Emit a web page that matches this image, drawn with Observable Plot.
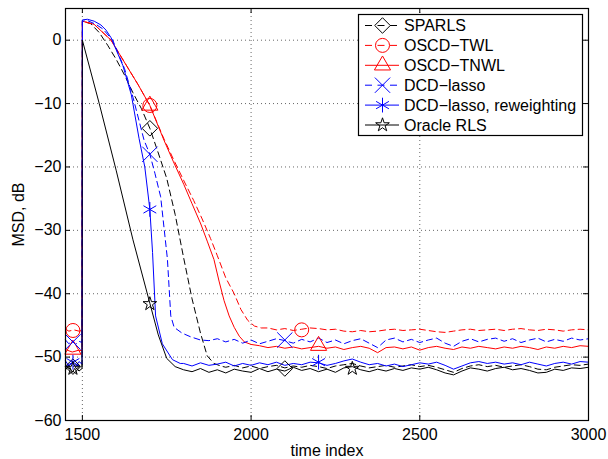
<!DOCTYPE html>
<html><head><meta charset="utf-8">
<script src="https://cdn.jsdelivr.net/npm/d3@7"></script>
<script src="https://cdn.jsdelivr.net/npm/@observablehq/plot@0.6"></script>
<style>
body{margin:0;background:#fff;}
#wrap{position:relative;width:608px;height:459px;font-family:"Liberation Sans",Arial,Helvetica,sans-serif;}
#legend{position:absolute;left:0;top:0;pointer-events:none;}
</style></head><body><div id="wrap"></div>
<script>
// ---- data ----
const xTicks = [1500, 2000, 2500, 3000];
const yTicks = [-60, -50, -40, -30, -20, -10, 0];
const xLabel = "time index";
const yLabel = "MSD, dB";
const names = ["SPARLS", "OSCD\u2212TWL", "OSCD\u2212TNWL", "DCD\u2212lasso", "DCD\u2212lasso, reweighting", "Oracle RLS"];

const sparls = [[1450,-51.4],[1465,-51.9],[1480,-51.2],[1499,-51.6],
  [1500,3],[1525,2.6],[1550,1.2],[1575,-0.8],[1600,-3],[1625,-5.5],[1650,-8.3],[1675,-10.8],[1700,-13.9],[1725,-17.8],[1750,-21.8],[1775,-27.5],[1800,-34.3],[1825,-40.8],[1850,-46.2],[1870,-49.8],[1890,-51],[1910,-51.4],
  [1925,-51.6],[1950,-51.3],[1975,-51.7],[2000,-51.4],[2025,-51.8],[2050,-51.5],[2075,-51.3],[2100,-51.7],[2125,-51.4],[2150,-51.6],[2175,-51.3],[2200,-51.5],[2225,-51.8],[2250,-51.4],[2275,-51.2],[2300,-51.0],[2325,-51.4],[2350,-51.7],[2375,-51.5],[2400,-51.3],[2425,-51.6],[2450,-51.4],[2475,-51.2],[2500,-51.5],[2525,-51.3],[2550,-51.6],[2575,-52.0],[2600,-52.4],[2625,-51.8],[2650,-51.4],[2675,-51.2],[2700,-51.5],[2725,-51.3],[2750,-51.6],[2775,-51.4],[2800,-51.2],[2825,-51.5],[2850,-51.9],[2875,-52.0],[2900,-51.6],[2925,-51.4],[2950,-51.2],[2975,-51.3],[3000,-51.1]];

const oscdTWL = [[1450,-45.6],[1460,-45.9],[1475,-45.7],[1490,-45.9],[1499,-45.8],
  [1500,3],[1535,2.5],[1585,0],[1633,-4.2],[1665,-7],[1700,-10.3],[1742,-15.6],[1770,-18.8],[1801,-22.2],[1830,-25.3],[1855,-28.2],[1880,-31.3],[1900,-34],[1925,-37.5],[1950,-40],[1970,-42.5],[1990,-44.2],[2010,-45.1],[2030,-45.4],
  [2050,-45.4],[2075,-45.7],[2100,-45.5],[2125,-45.8],[2150,-45.6],[2175,-45.4],[2200,-45.5],[2225,-45.7],[2250,-45.6],[2275,-45.9],[2300,-46.0],[2325,-45.8],[2350,-46.0],[2375,-45.9],[2400,-45.7],[2425,-45.6],[2450,-45.8],[2475,-45.7],[2500,-45.6],[2525,-45.8],[2550,-46.0],[2575,-46.1],[2600,-45.9],[2625,-45.7],[2650,-45.6],[2675,-45.8],[2700,-45.7],[2725,-45.6],[2750,-45.8],[2775,-45.6],[2800,-45.5],[2825,-45.7],[2850,-45.8],[2875,-45.6],[2900,-45.7],[2925,-45.9],[2950,-45.7],[2975,-45.6],[3000,-45.7]];

const oscdTNWL = [[1450,-48.8],[1470,-49.2],[1490,-48.9],[1499,-49],
  [1500,3],[1535,2.5],[1585,0],[1633,-4.2],[1665,-7],[1700,-10.3],[1742,-15.8],[1770,-19.2],[1801,-22.8],[1825,-25.8],[1851,-29],[1870,-31.7],[1890,-34.6],[1905,-38],[1920,-41.1],[1935,-43.5],[1950,-45.3],[1965,-46.7],[1980,-47.6],[2000,-48],[2025,-48.2],
  [2050,-48.5],[2075,-48.3],[2100,-48.6],[2125,-48.4],[2150,-48.7],[2175,-48.5],[2200,-48.3],[2225,-48.6],[2250,-48.4],[2275,-48.8],[2300,-48.5],[2325,-48.3],[2350,-48.6],[2375,-49.3],[2400,-48.5],[2425,-48.4],[2450,-48.7],[2475,-48.4],[2500,-48.9],[2525,-48.5],[2550,-48.3],[2575,-48.6],[2600,-48.8],[2625,-48.4],[2650,-48.6],[2675,-48.3],[2700,-48.5],[2725,-48.7],[2750,-48.4],[2775,-48.6],[2800,-48.3],[2825,-48.5],[2850,-48.8],[2875,-48.4],[2900,-48.6],[2925,-48.3],[2950,-48.5],[2975,-48.2],[3000,-48.3]];

const dcdLasso = [[1450,-47.3],[1460,-47.9],[1470,-47.4],[1480,-48.0],[1490,-47.5],[1499,-47.7],
  [1500,3],[1515,3.1],[1540,2.5],[1560,1.8],[1590,0],[1625,-4.5],[1650,-9],[1683,-15.8],[1700,-18],[1715,-21],[1732,-24.7],[1752,-34.5],[1762,-43.5],[1772,-45.3],[1795,-46.2],[1821,-46.8],[1850,-47.3],[1875,-47.4],
  [1900,-47.1],[1925,-47.6],[1950,-47.2],[1975,-47.8],[2000,-47.3],[2025,-47.9],[2050,-47.5],[2075,-47.1],[2100,-47.4],[2125,-47.8],[2150,-47.2],[2175,-47.6],[2200,-47.0],[2225,-47.7],[2250,-47.3],[2275,-47.9],[2300,-47.4],[2325,-47.1],[2350,-47.8],[2375,-48.5],[2400,-47.3],[2425,-47.0],[2450,-47.6],[2475,-47.2],[2500,-47.7],[2525,-47.3],[2550,-47.0],[2575,-47.8],[2600,-48.3],[2625,-47.5],[2650,-47.1],[2675,-47.6],[2700,-47.2],[2725,-47.0],[2750,-47.5],[2775,-47.1],[2800,-47.7],[2825,-47.3],[2850,-47.0],[2875,-47.6],[2900,-47.2],[2925,-47.5],[2950,-47.0],[2975,-47.3],[3000,-47.1]];

const dcdReweight = [[1450,-50.6],[1460,-51.4],[1470,-50.9],[1480,-51.5],[1490,-50.7],[1499,-51.1],
  [1500,3.2],[1515,3.3],[1535,3.0],[1555,2.4],[1570,1.6],[1585,0.4],[1600,-1.5],[1620,-4],[1645,-8.6],[1668,-15.5],[1685,-20],[1700,-26.7],[1708,-33.5],[1717,-43.5],[1737,-47.9],[1767,-50.4],[1790,-51.0],
  [1800,-51.0],[1825,-51.4],[1850,-50.9],[1875,-51.3],[1900,-51.1],[1925,-50.8],[1950,-51.4],[1975,-51.0],[2000,-51.3],[2025,-50.9],[2050,-51.2],[2075,-50.8],[2100,-51.3],[2125,-51.0],[2150,-51.2],[2175,-50.8],[2200,-50.9],[2225,-51.3],[2250,-51.0],[2275,-50.6],[2300,-50.3],[2325,-50.8],[2350,-51.2],[2375,-51.0],[2400,-51.4],[2425,-51.1],[2450,-51.5],[2475,-51.2],[2500,-50.9],[2525,-51.1],[2550,-50.8],[2575,-51.3],[2600,-51.9],[2625,-51.4],[2650,-50.9],[2675,-50.7],[2700,-51.0],[2725,-50.8],[2750,-51.1],[2775,-50.9],[2800,-51.2],[2825,-50.8],[2850,-51.1],[2875,-51.4],[2900,-51.0],[2925,-50.8],[2950,-51.1],[2975,-50.7],[3000,-50.8]];

const oracle = [[1450,-52],[1460,-51.3],[1470,-52.4],[1480,-51.6],[1490,-52.2],[1499,-51.8],
  [1500,0],[1550,-10],[1600,-20.5],[1650,-31.5],[1700,-41.5],[1725,-46.5],[1750,-50.2],[1775,-51.5],[1800,-52],
  [1825,-52.3],[1850,-51.8],[1875,-52.4],[1900,-52.0],[1925,-52.5],[1950,-51.9],[1975,-52.2],[2000,-52.4],[2025,-51.8],[2050,-52.3],[2075,-51.9],[2100,-52.2],[2125,-51.6],[2150,-52.1],[2175,-51.8],[2200,-52.3],[2225,-51.9],[2250,-52.4],[2275,-51.7],[2300,-51.5],[2325,-52.0],[2350,-52.3],[2375,-51.9],[2400,-52.2],[2425,-51.8],[2450,-52.1],[2475,-51.7],[2500,-51.9],[2525,-51.6],[2550,-52.0],[2575,-52.5],[2600,-52.8],[2625,-52.2],[2650,-51.7],[2675,-51.9],[2700,-52.2],[2725,-51.8],[2750,-51.6],[2775,-52.0],[2800,-51.8],[2825,-52.1],[2850,-52.5],[2875,-52.4],[2900,-51.9],[2925,-52.1],[2950,-51.7],[2975,-51.8],[3000,-51.6]];

// marker positions
const sparlsMarks = [[1472,-51.5],[1700,-13.9],[2100,-51.8]];
const oscdTWLMarks = [[1472,-45.8],[1700,-10.3],[2150,-45.7]];
const oscdTNWLMarks = [[1472,-48.8],[1700,-10.3],[2200,-48.2]];
const dcdLassoMarks = [[1472,-47.6],[1700,-18],[2100,-47.3]];
const dcdReweightMarks = [[1472,-50.8],[1700,-26.7],[2200,-50.8]];
const oracleMarks = [[1472,-51.8],[1700,-41.6],[2300,-51.8]];

// ---- styles ----
const series = [
  {name: names[0], data: sparls, marks: sparlsMarks, color: "#000", dash: "6,4", symbol: "diamond2", r: 7},
  {name: names[1], data: oscdTWL, marks: oscdTWLMarks, color: "#f00", dash: "6,4", symbol: "circle", r: 7},
  {name: names[2], data: oscdTNWL, marks: oscdTNWLMarks, color: "#f00", dash: null, symbol: "triangle", r: 6},
  {name: names[3], data: dcdLasso, marks: dcdLassoMarks, color: "#00f", dash: "6,4", symbol: "times", r: 7},
  {name: names[4], data: dcdReweight, marks: dcdReweightMarks, color: "#00f", dash: null, symbol: "asterisk", r: 7},
  {name: names[5], data: oracle, marks: oracleMarks, color: "#000", dash: null, symbol: "star", r: 4.3}
];

const W = 608, H = 459, mL = 65, mR = 20, mT = 8, mB = 39;
const plotW = W - mL - mR, plotH = H - mT - mB;
const tickLen = 5;
const FONT = "Liberation Sans, Arial, Helvetica, sans-serif";
const fmt = d => d < 0 ? "\u2212" + Math.abs(d) : String(d);

const marks = [
  Plot.gridX(xTicks.filter(d => d < 3000), {stroke: "#000", strokeOpacity: 0.6, strokeDasharray: "1,3", strokeWidth: 1}),
  Plot.gridY(yTicks.filter(d => d > -60), {stroke: "#000", strokeOpacity: 0.6, strokeDasharray: "1,3", strokeWidth: 1}),
];
for (const s of series) {
  marks.push(Plot.line(s.data, {x: d => d[0], y: d => d[1], stroke: s.color, strokeWidth: 1, strokeDasharray: s.dash, curve: "linear"}));
}
for (const s of series) {
  marks.push(Plot.dot(s.marks, {x: d => d[0], y: d => d[1], symbol: () => s.symbol, r: s.r, stroke: s.color, fill: "none", strokeWidth: 1}));
}
marks.push(
  Plot.ruleX(xTicks, {stroke: "#000", insetTop: plotH - tickLen}),
  Plot.ruleX(xTicks, {stroke: "#000", insetBottom: plotH - tickLen}),
  Plot.ruleY(yTicks, {stroke: "#000", insetRight: plotW - tickLen}),
  Plot.ruleY(yTicks, {stroke: "#000", insetLeft: plotW - tickLen}),
  Plot.frame({stroke: "#000", strokeWidth: 1.2}),
  Plot.axisX(xTicks, {tickSize: 0, tickPadding: 8, tickFormat: fmt, fontSize: 16, label: xLabel, labelAnchor: "center", labelOffset: 35, labelArrow: "none"}),
  Plot.axisY(yTicks, {tickSize: 0, tickPadding: 4, tickFormat: fmt, fontSize: 16, label: yLabel, labelAnchor: "center", labelOffset: 53, labelArrow: "none"})
);

const chart = Plot.plot({
  width: W, height: H,
  marginLeft: mL, marginRight: mR, marginTop: mT, marginBottom: mB,
  x: {domain: [1450, 3000]},
  y: {domain: [-60, 5]},
  style: {fontFamily: FONT, fontSize: "16px", color: "#000", background: "#fff"},
  marks
});
const wrap = document.getElementById("wrap");
wrap.appendChild(chart);

// ---- legend ----
const leg = d3.select(wrap).append("svg").attr("id", "legend").attr("width", W).attr("height", H);
const lx = 358.5, ly = 14.5, lw = 224, lh = 121;
leg.append("rect").attr("x", lx).attr("y", ly).attr("width", lw).attr("height", lh)
  .attr("fill", "#fff").attr("stroke", "#000").attr("stroke-width", 1.2);
const symMap = {diamond2: d3.symbolDiamond2, circle: d3.symbolCircle, triangle: d3.symbolTriangle, times: d3.symbolTimes, asterisk: d3.symbolAsterisk, star: d3.symbolStar};
series.forEach((s, i) => {
  const cy = 25.5 + i * 19.9;
  const g = leg.append("g");
  g.append("line").attr("x1", 365).attr("x2", 399).attr("y1", cy).attr("y2", cy)
    .attr("stroke", s.color).attr("stroke-width", 1).attr("stroke-dasharray", s.dash ? "7,5.5" : null);
  g.append("path").attr("d", d3.symbol(symMap[s.symbol] || d3.symbolCircle, Math.PI * s.r * s.r)())
    .attr("transform", `translate(382.5,${cy})`).attr("fill", "none").attr("stroke", s.color).attr("stroke-width", 1);
  g.append("text").attr("x", 404).attr("y", cy).attr("dy", "0.36em")
    .attr("font-family", FONT).attr("font-size", 16).attr("fill", "#000").text(s.name);
});
</script></body></html>
